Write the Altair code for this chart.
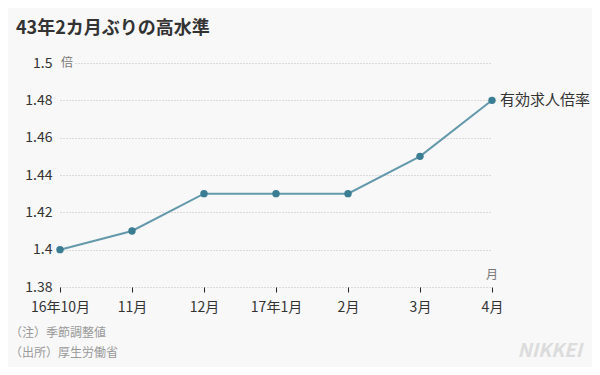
import altair as alt
import pandas as pd

months = ["16年10月", "11月", "12月", "17年1月", "2月", "3月", "4月"]
values = [1.40, 1.41, 1.43, 1.43, 1.43, 1.45, 1.48]
y_ticks = [1.38, 1.40, 1.42, 1.44, 1.46, 1.48, 1.50]
series_name = "有効求人倍率"

df = pd.DataFrame({"month": months, "value": values})
FONT = "Noto Sans CJK JP"
BG = "#f8f8f8"

x_enc = alt.X("month:O", sort=months, scale=alt.Scale(type="point", padding=0),
              axis=alt.Axis(title=None, labelAngle=0, domain=False, grid=False,
                            ticks=True, tickColor="#222", tickSize=5,
                            labelFontSize=14, labelColor="#333", labelPadding=8,
                            labelFont=FONT))
y_enc = alt.Y("value:Q", scale=alt.Scale(domain=[1.38, 1.5], nice=False, zero=False),
              axis=alt.Axis(title=None, values=y_ticks, tickCount=len(y_ticks) + 2,
                            domain=False, ticks=False,
                            grid=True, gridDash=[1, 2], gridColor="#bdbdbd",
                            labelOverlap=False,
                            labelExpr="format(datum.value, '.2~f')",
                            labelFontSize=14, labelColor="#333", labelPadding=8,
                            labelFont=FONT))

line = alt.Chart(df).mark_line(color="#6399ab", strokeWidth=2).encode(x=x_enc, y=y_enc)
pts = alt.Chart(df).mark_circle(color="#3b7d92", size=55, opacity=1).encode(
    x=alt.X("month:O", sort=months), y="value:Q")

last = pd.DataFrame({"month": [months[-1]], "value": [values[-1]], "label": [series_name]})
lbl = alt.Chart(last).mark_text(align="left", dx=8, fontSize=15, color="#333", font=FONT).encode(
    x=alt.X("month:O", sort=months), y="value:Q", text="label:N")

one = pd.DataFrame({"a": [0]})
def txt(s, x, y, **kw):
    return alt.Chart(one).mark_text(font=FONT, **kw).encode(
        x=alt.value(x), y=alt.value(y), text=alt.value(s))

mask = alt.Chart(one).mark_rect(color=BG).encode(
    x=alt.value(0), x2=alt.value(14), y=alt.value(-6), y2=alt.value(6))

title = txt("43年2カ月ぶりの高水準", -44, -34, align="left", baseline="middle",
            fontSize=18, fontWeight="bold", color="#333")
bai = txt("倍", 1, 0, align="left", baseline="middle", fontSize=12, color="#777")
tsuki = txt("月", 432, 212, align="center", baseline="middle", fontSize=12, color="#777")
note1 = txt("（注）季節調整値", -50, 270, align="left", baseline="middle", fontSize=12, color="#999")
note2 = txt("（出所）厚生労働省", -50, 290, align="left", baseline="middle", fontSize=12, color="#999")
nikkei = txt("NIKKEI", 522, 288, align="right", baseline="middle", fontSize=19,
             fontWeight="bold", fontStyle="italic", color="#dcdcdc")

chart = alt.layer(line, mask, pts, lbl, title, bai, tsuki, note1, note2, nikkei).properties(
    width=432, height=224,
    autosize=alt.AutoSizeParams(type="none"),
    padding={"left": 52, "top": 55, "right": 100, "bottom": 80},
    background=BG,
).configure_view(stroke=None)

chart.save("out.html", embed_options={"renderer": "svg", "actions": False})
